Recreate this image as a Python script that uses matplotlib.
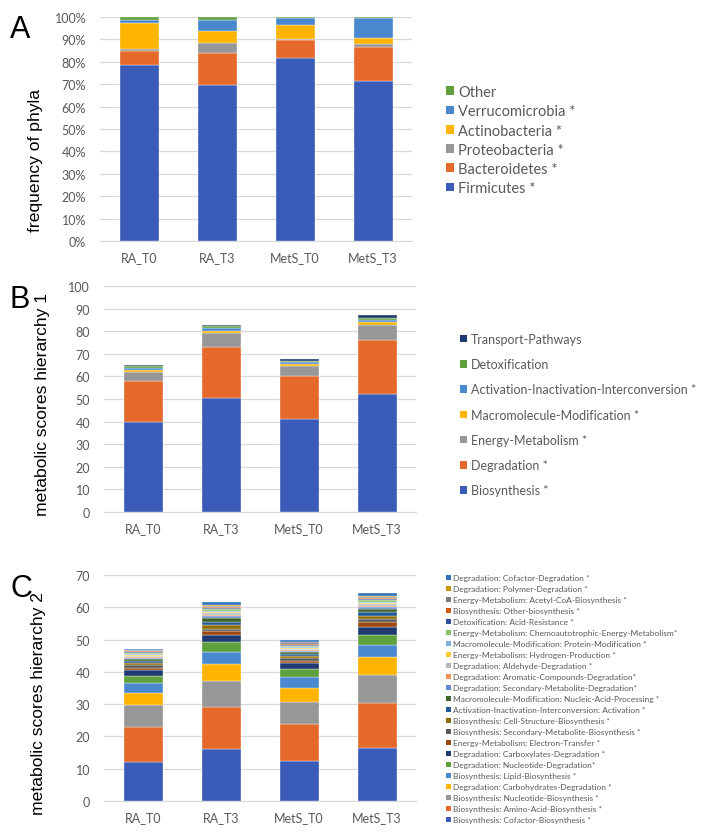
import matplotlib.pyplot as plt
import numpy as np
from matplotlib.patches import Patch

groups = ['RA_T0', 'RA_T3', 'MetS_T0', 'MetS_T3']

# panel A - phyla (%), bottom to top
phyla = ['Firmicutes *', 'Bacteroidetes *', 'Proteobacteria *', 'Actinobacteria *',
         'Verrucomicrobia *', 'Other']
firmicutes = [78.6, 69.6, 81.6, 71.3]
bacteroidetes = [6.1, 14.2, 8.3, 15.4]
proteobacteria = [1.0, 4.5, 0.5, 1.4]
actinobacteria = [11.5, 5.6, 6.0, 2.7]
verrucomicrobia = [1.6, 4.9, 3.3, 8.8]
other = [1.2, 1.2, 0.3, 0.4]

# panel B - hierarchy 1, bottom to top
h1_labels = ['Biosynthesis *', 'Degradation *', 'Energy-Metabolism *',
             'Macromolecule-Modification *', 'Activation-Inactivation-Interconversion *',
             'Detoxification', 'Transport-Pathways']
biosynthesis = [39.7, 50.3, 41.0, 52.4]
degradation = [18.2, 22.9, 19.0, 23.8]
energy = [4.2, 6.2, 4.6, 6.6]
macromolecule = [0.8, 0.9, 0.8, 1.3]
activation = [0.9, 0.9, 0.8, 0.9]
detox = [0.7, 0.9, 0.7, 1.0]
transport = [0.7, 0.8, 0.7, 1.1]

# panel C - hierarchy 2, bottom to top
h2_labels = [
    'Biosynthesis: Cofactor-Biosynthesis *',
    'Biosynthesis: Amino-Acid-Biosynthesis *',
    'Biosynthesis: Nucleotide-Biosynthesis *',
    'Degradation: Carbohydrates-Degradation *',
    'Biosynthesis: Lipid-Biosynthesis *',
    'Degradation: Nucleotide-Degradation*',
    'Degradation: Carboxylates-Degradation *',
    'Energy-Metabolism: Electron-Transfer *',
    'Biosynthesis: Secondary-Metabolite-Biosynthesis *',
    'Biosynthesis: Cell-Structure-Biosynthesis *',
    'Activation-Inactivation-Interconversion: Activation *',
    'Macromolecule-Modification: Nucleic-Acid-Processing *',
    'Degradation: Secondary-Metabolite-Degradation*',
    'Degradation: Aromatic-Compounds-Degradation*',
    'Degradation: Aldehyde-Degradation *',
    'Energy-Metabolism: Hydrogen-Production *',
    'Macromolecule-Modification: Protein-Modification *',
    'Energy-Metabolism: Chemoautotrophic-Energy-Metabolism*',
    'Detoxification: Acid-Resistance *',
    'Biosynthesis: Other-biosynthesis *',
    'Energy-Metabolism: Acetyl-CoA-Biosynthesis *',
    'Degradation: Polymer-Degradation *',
    'Degradation: Cofactor-Degradation *',
]
cofactor_bio = [12.1, 16.1, 12.5, 16.4]
amino_acid_bio = [10.8, 13.0, 11.2, 14.1]
nucleotide_bio = [6.9, 8.1, 7.1, 8.5]
carbohydrates_deg = [3.6, 5.2, 4.3, 5.5]
lipid_bio = [3.2, 3.9, 3.3, 3.8]
nucleotide_deg = [2.1, 2.9, 2.5, 3.2]
carboxylates_deg = [1.8, 2.3, 1.8, 2.5]
electron_transfer = [0.8, 1.1, 0.8, 1.3]
sec_metabolite_bio = [0.7, 0.8, 0.7, 1.0]
cell_structure_bio = [0.7, 1.0, 0.7, 1.1]
activation_act = [0.6, 1.1, 0.6, 1.2]
nucleic_acid_proc = [0.6, 1.2, 0.6, 1.0]
sec_metabolite_deg = [0.4, 0.5, 0.4, 0.5]
aromatic_deg = [0.4, 0.5, 0.3, 0.4]
aldehyde_deg = [0.3, 0.5, 0.4, 0.4]
hydrogen_prod = [0.3, 0.4, 0.3, 0.4]
protein_mod = [0.3, 0.4, 0.3, 0.3]
chemoautotrophic = [0.3, 0.4, 0.3, 0.6]
acid_resistance = [0.3, 0.4, 0.3, 0.3]
other_bio = [0.2, 0.3, 0.3, 0.3]
acetyl_coa = [0.3, 0.4, 0.4, 0.3]
polymer_deg = [0.2, 0.3, 0.3, 0.3]
cofactor_deg = [0.3, 0.7, 0.4, 1.1]

palette = ['#3A5BB8', '#E4692A', '#979797', '#FFB400', '#4A89CF', '#5EA03C',
           '#1F3A70', '#9E480E', '#5A5A5A', '#8F6C00', '#1F5A94', '#3E6428',
           '#6389D0', '#F1935A', '#B7B7B7', '#FFCB33', '#7CAFDD', '#8CC168',
           '#2D4E98', '#D05A12', '#7C7C7C', '#C79600', '#3274BE']

grid_c = '#D9D9D9'
text_c = '#595959'
tick_font = 'Lato'

fig = plt.figure(figsize=(7.13, 8.37), dpi=100)
W, H = 713, 837


def make_ax(left, right, top, bottom):
    return fig.add_axes([left / W, 1 - bottom / H, (right - left) / W, (bottom - top) / H])


def stack(ax, series, colors):
    x = np.arange(len(groups))
    base = np.zeros(len(groups))
    for vals, col in zip(series, colors):
        ax.bar(x, vals, 0.5, bottom=base, color=col, edgecolor='white', linewidth=0.25, zorder=3)
        base += np.array(vals)
    ax.set_xlim(-0.5, len(groups) - 0.5)
    ax.set_xticks(x)
    ax.set_xticklabels(groups, fontsize=9.5, color=text_c, family=tick_font)
    ax.tick_params(axis='both', length=0, colors=text_c, labelsize=9)
    ax.tick_params(axis='x', pad=7)
    ax.tick_params(axis='y', pad=10)
    for lab in ax.get_yticklabels():
        lab.set_family(tick_font)
    ax.yaxis.grid(True, color=grid_c, linewidth=0.9, zorder=0)
    for s in ['top', 'right', 'left']:
        ax.spines[s].set_visible(False)
    ax.spines['bottom'].set_color(grid_c)


def legend(labels, colors, x, y, fs, spacing):
    handles = [Patch(facecolor=c, edgecolor='none') for c in colors]
    fig.legend(handles[::-1], labels[::-1], loc='upper left', bbox_to_anchor=(x / W, 1 - y / H),
               frameon=False, labelspacing=spacing, handlelength=0.55,
               handleheight=0.55, handletextpad=0.3, borderpad=0, borderaxespad=0,
               labelcolor=text_c, prop={'family': tick_font, 'size': fs})


# A
axA = make_ax(100, 412, 18, 242)
stack(axA, [firmicutes, bacteroidetes, proteobacteria, actinobacteria, verrucomicrobia, other],
      palette[:6])
axA.set_ylim(0, 100)
axA.set_yticks(np.arange(0, 101, 10))
axA.set_yticklabels([f'{v}%' for v in range(0, 101, 10)], family=tick_font)
axA.set_ylabel('frequency of phyla', fontsize=12.6, family='Liberation Sans')
axA.yaxis.set_label_coords(-0.183, 0.366)
legend(phyla, palette[:6], 446, 86, 10.5, 0.36)

# B
axB = make_ax(104, 416, 287, 513)
stack(axB, [biosynthesis, degradation, energy, macromolecule, activation, detox, transport],
      palette[:6] + ['#1F3A70'])
axB.set_ylim(0, 100)
axB.set_yticks(np.arange(0, 101, 10))
axB.set_ylabel('metabolic scores hierarchy 1', fontsize=12.6, family='Liberation Sans')
axB.yaxis.set_label_coords(-0.173, 0.482)
legend(h1_labels, palette[:6] + ['#1F3A70'], 460, 334, 9, 1.06)

# C
axC = make_ax(104, 416, 576, 802)
h2_series = [cofactor_bio, amino_acid_bio, nucleotide_bio, carbohydrates_deg, lipid_bio,
             nucleotide_deg, carboxylates_deg, electron_transfer, sec_metabolite_bio,
             cell_structure_bio, activation_act, nucleic_acid_proc, sec_metabolite_deg,
             aromatic_deg, aldehyde_deg, hydrogen_prod, protein_mod, chemoautotrophic,
             acid_resistance, other_bio, acetyl_coa, polymer_deg, cofactor_deg]
stack(axC, h2_series, palette)
axC.set_ylim(0, 70)
axC.set_yticks(np.arange(0, 71, 10))
axC.set_ylabel('metabolic scores hierarchy 2', fontsize=12.6, family='Liberation Sans')
axC.yaxis.set_label_coords(-0.186, 0.438)
legend(h2_labels, palette, 446, 575, 6, 0.48)

fig.text(10 / W, 1 - 38 / H, 'A', fontsize=22, family='Liberation Sans')
fig.text(10 / W, 1 - 308 / H, 'B', fontsize=22, family='Liberation Sans')
fig.text(10 / W, 1 - 597 / H, 'C', fontsize=22, family='Liberation Sans')

fig.savefig('out.png', dpi=100)
